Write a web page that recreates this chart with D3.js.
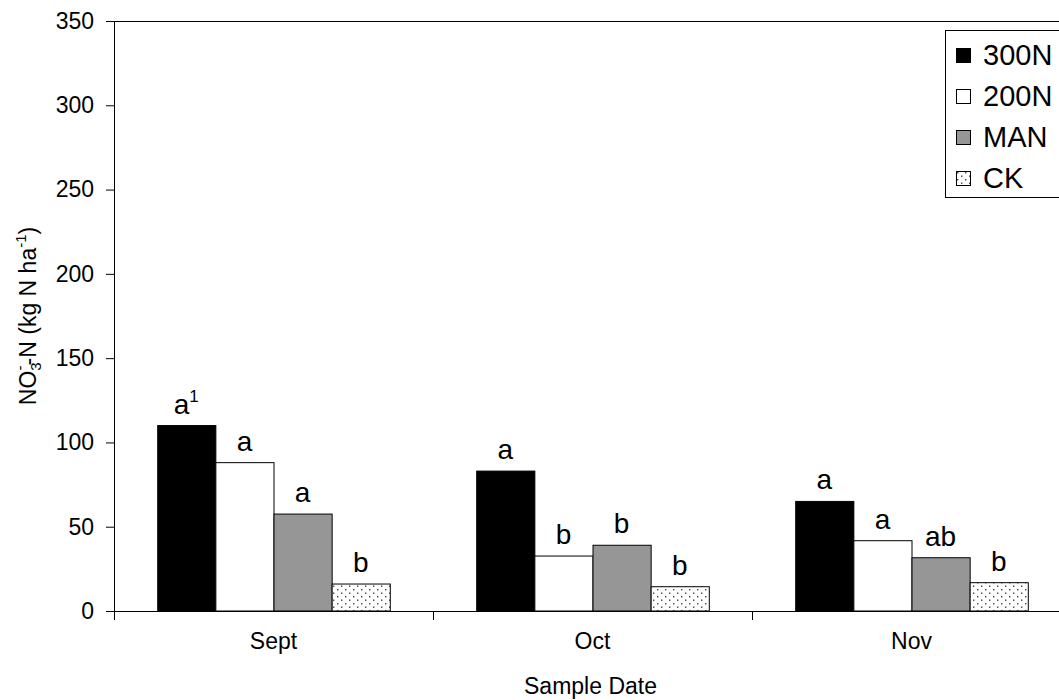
<!DOCTYPE html>
<html><head><meta charset="utf-8">
<script src="https://cdn.jsdelivr.net/npm/d3@7"></script>
<style>
body{margin:0;background:#fff;}
text{font-family:Arial,"Liberation Sans",sans-serif;fill:#000;}
</style></head>
<body><svg id="c" width="1059" height="700"></svg>
<script>
const categories = ["Sept","Oct","Nov"];
const series = ["300N","200N","MAN","CK"];
const v300N = [110, 83, 65];
const v200N = [88, 32.6, 41.7];
const vMAN  = [57.5, 39, 31.6];
const vCK   = [16, 14.4, 16.8];
const letters300N = ["a","a","a"];
const letters200N = ["a","b","a"];
const lettersMAN  = ["a","b","ab"];
const lettersCK   = ["b","b","b"];
const yTicks = [0,50,100,150,200,250,300,350];

const valuesBySeries = {"300N":v300N,"200N":v200N,"MAN":vMAN,"CK":vCK};
const lettersBySeries = {"300N":letters300N,"200N":letters200N,"MAN":lettersMAN,"CK":lettersCK};
const fills = {"300N":"#000000","200N":"#ffffff","MAN":"#969696","CK":"url(#dots)"};

const svg = d3.select("#c");
const defs = svg.append("defs");
const pat = defs.append("pattern").attr("id","dots").attr("patternUnits","userSpaceOnUse")
  .attr("width",8).attr("height",7);
pat.append("rect").attr("width",8).attr("height",7).attr("fill","#fff");
pat.append("rect").attr("x",1).attr("y",1).attr("width",1.4).attr("height",1.4).attr("fill","#444");
pat.append("rect").attr("x",5).attr("y",4.5).attr("width",1.4).attr("height",1.4).attr("fill","#444");

const L = 114, T = 21, B = 611, R = 1071;
const x0 = d3.scaleBand().domain(categories).range([L,R]).paddingInner(0).paddingOuter(0);
const x1 = d3.scaleBand().domain(series).range([0,x0.bandwidth()]).paddingInner(0).paddingOuter(0.743);
const y = d3.scaleLinear().domain([0,350]).range([B,T]);

// top border
svg.append("line").attr("x1",L).attr("x2",1059).attr("y1",T+0.5).attr("y2",T+0.5).attr("stroke","#000");

// bars
const data = [];
categories.forEach((c,i)=>series.forEach(s=>data.push({c,s,v:valuesBySeries[s][i],l:lettersBySeries[s][i],i})));
svg.append("g").selectAll("rect").data(data).join("rect")
  .attr("x",d=>x0(d.c)+x1(d.s)+0.5)
  .attr("y",d=>y(d.v))
  .attr("width",x1.bandwidth())
  .attr("height",d=>B-y(d.v))
  .attr("fill",d=>fills[d.s])
  .attr("stroke","#000").attr("stroke-width",1);

// letters
const lab = svg.append("g").selectAll("text").data(data).join("text")
  .attr("x",d=>x0(d.c)+x1(d.s)+x1.bandwidth()/2)
  .attr("y",d=>y(d.v)-12)
  .attr("text-anchor","middle")
  .attr("font-size",28);
lab.append("tspan").text(d=>d.l);
lab.filter(d=>d.c==="Sept"&&d.s==="300N").append("tspan").attr("font-size",17).attr("dy",-12).text("1");

// y axis
const ya = svg.append("g").attr("transform",`translate(${L},0)`)
  .call(d3.axisLeft(y).tickValues(yTicks).tickSize(8).tickPadding(12).tickSizeOuter(0));
ya.select(".domain").remove();
ya.selectAll(".tick line").attr("stroke","#000");
ya.selectAll(".tick text").attr("font-size",23).attr("font-family","Arial, 'Liberation Sans', sans-serif");
svg.append("line").attr("x1",L+0.5).attr("x2",L+0.5).attr("y1",T).attr("y2",B+9).attr("stroke","#000");

// x axis
svg.append("line").attr("x1",L).attr("x2",1059).attr("y1",B+0.5).attr("y2",B+0.5).attr("stroke","#000");
const xa = svg.append("g").attr("transform",`translate(0,${B})`)
  .call(d3.axisBottom(x0).tickSize(0).tickPadding(22));
xa.select(".domain").remove();
xa.selectAll(".tick text").attr("font-size",23).attr("font-family","Arial, 'Liberation Sans', sans-serif");
svg.append("g").selectAll("line").data(categories.slice(1)).join("line")
  .attr("x1",d=>x0(d)+0.5).attr("x2",d=>x0(d)+0.5).attr("y1",B).attr("y2",B+9).attr("stroke","#000");

// axis titles
svg.append("text").attr("x",(L+R)/2 - 2).attr("y",694).attr("text-anchor","middle").attr("font-size",23).text("Sample Date");
const yt = svg.append("text").attr("transform",`translate(36,${(T+B)/2}) rotate(-90)`).attr("text-anchor","middle").attr("font-size",23);
yt.append("tspan").text("NO");
yt.append("tspan").attr("font-size",15).attr("dy",5).text("3");
yt.append("tspan").attr("font-size",15).attr("dx",-8).attr("dy",-16).text("-");
yt.append("tspan").attr("dy",11).text("-N (kg N ha");
yt.append("tspan").attr("font-size",15).attr("dy",-10).text("-1");
yt.append("tspan").attr("dy",10).text(")");

// legend
const lg = svg.append("g");
lg.append("rect").attr("x",945.5).attr("y",30.5).attr("width",130).attr("height",167).attr("fill","#fff").attr("stroke","#000");
const rows = lg.selectAll("g").data(series).join("g").attr("transform",(d,i)=>`translate(956,${55+i*41})`);
rows.append("rect").attr("x",0.5).attr("y",-6.5).attr("width",14).attr("height",14).attr("fill",d=>fills[d]).attr("stroke","#000");
rows.append("text").attr("x",27).attr("y",10).attr("font-size",29).text(d=>d);
</script></body></html>
